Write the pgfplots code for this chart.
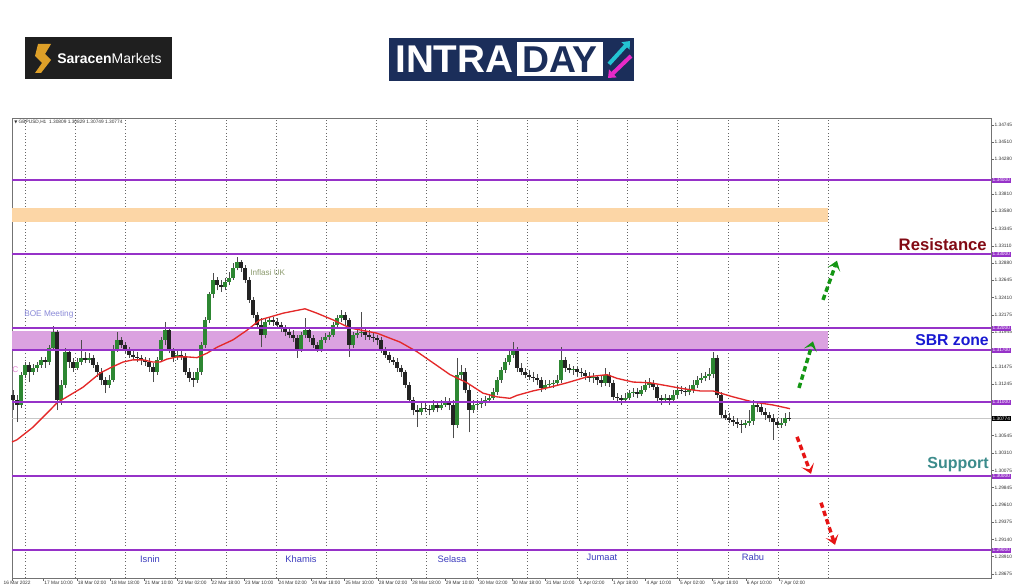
\documentclass[border=0pt]{standalone}
\usepackage{fontspec}
\setmainfont{Liberation Sans}
\newfontfamily\dejavu{DejaVu Sans}
\usepackage{pgfplots}
\pgfplotsset{compat=1.18}
\usepackage{pgfplotstable}
\usetikzlibrary{arrows.meta}

\definecolor{lvl}{RGB}{150,50,200}
\definecolor{sbr}{RGB}{219,162,224}
\definecolor{orng}{RGB}{252,214,166}
\definecolor{bull}{RGB}{45,135,50}
\definecolor{bear}{RGB}{35,35,35}
\definecolor{navy}{RGB}{27,46,90}
\definecolor{gold}{RGB}{222,160,40}
\definecolor{resred}{RGB}{130,10,20}
\definecolor{sbrblue}{RGB}{25,25,210}
\definecolor{supteal}{RGB}{60,140,140}
\definecolor{daylab}{RGB}{60,60,190}
\definecolor{arrgreen}{RGB}{20,150,20}
\definecolor{arrred}{RGB}{230,20,20}
\definecolor{macol}{RGB}{228,40,40}
\definecolor{icyan}{RGB}{36,196,210}
\definecolor{imag}{RGB}{232,42,200}

\newcommand{\mtfont}{\fontsize{3.6}{4.2}\selectfont}

\pgfplotstableread{
x o h l c
13 1.3109 1.3116 1.3089 1.3103
17 1.3103 1.3109 1.3073 1.3096
21 1.3096 1.3141 1.3092 1.3137
25 1.3137 1.3154 1.3132 1.3150
29 1.3150 1.3154 1.3127 1.3141
33 1.3141 1.3151 1.3137 1.3146
37 1.3146 1.3154 1.3141 1.3150
41 1.3150 1.3161 1.3146 1.3157
45 1.3157 1.3161 1.3146 1.3154
49 1.3154 1.3177 1.3150 1.3173
53 1.3173 1.3203 1.3170 1.3195
57 1.3195 1.3197 1.3089 1.3103
61 1.3103 1.3130 1.3096 1.3123
65 1.3123 1.3173 1.3119 1.3168
69 1.3168 1.3170 1.3146 1.3154
73 1.3154 1.3160 1.3141 1.3146
77 1.3146 1.3160 1.3143 1.3154
81 1.3154 1.3184 1.3150 1.3160
85 1.3160 1.3168 1.3153 1.3157
89 1.3157 1.3166 1.3153 1.3160
93 1.3160 1.3164 1.3146 1.3150
97 1.3150 1.3154 1.3134 1.3141
101 1.3141 1.3146 1.3123 1.3130
105 1.3130 1.3134 1.3112 1.3123
109 1.3123 1.3137 1.3119 1.3130
113 1.3130 1.3177 1.3127 1.3170
117 1.3170 1.3195 1.3168 1.3184
121 1.3184 1.3188 1.3173 1.3177
125 1.3177 1.3181 1.3166 1.3170
129 1.3170 1.3174 1.3160 1.3164
133 1.3164 1.3170 1.3157 1.3161
137 1.3161 1.3168 1.3154 1.3160
141 1.3160 1.3164 1.3150 1.3157
145 1.3157 1.3161 1.3149 1.3154
149 1.3154 1.3160 1.3141 1.3147
153 1.3147 1.3153 1.3127 1.3141
157 1.3141 1.3161 1.3137 1.3157
161 1.3157 1.3188 1.3154 1.3184
165 1.3184 1.3208 1.3177 1.3197
169 1.3197 1.3201 1.3166 1.3170
173 1.3170 1.3173 1.3154 1.3161
177 1.3161 1.3170 1.3157 1.3164
181 1.3164 1.3170 1.3157 1.3162
185 1.3162 1.3166 1.3137 1.3141
189 1.3141 1.3146 1.3127 1.3132
193 1.3132 1.3141 1.3120 1.3130
197 1.3130 1.3146 1.3126 1.3141
201 1.3141 1.3181 1.3137 1.3177
205 1.3177 1.3215 1.3173 1.3211
209 1.3211 1.3249 1.3207 1.3246
213 1.3246 1.3274 1.3241 1.3265
217 1.3265 1.3269 1.3251 1.3258
221 1.3258 1.3265 1.3249 1.3255
225 1.3255 1.3268 1.3251 1.3262
229 1.3262 1.3276 1.3258 1.3268
233 1.3268 1.3288 1.3265 1.3281
237 1.3281 1.3296 1.3278 1.3289
241 1.3289 1.3292 1.3276 1.3281
245 1.3281 1.3285 1.3261 1.3265
249 1.3265 1.3269 1.3234 1.3238
253 1.3238 1.3242 1.3214 1.3218
257 1.3218 1.3222 1.3200 1.3204
261 1.3204 1.3214 1.3174 1.3190
265 1.3190 1.3214 1.3186 1.3208
269 1.3208 1.3215 1.3204 1.3211
273 1.3211 1.3215 1.3203 1.3208
277 1.3208 1.3214 1.3200 1.3204
281 1.3204 1.3208 1.3195 1.3200
285 1.3200 1.3204 1.3189 1.3195
289 1.3195 1.3200 1.3186 1.3190
293 1.3190 1.3197 1.3181 1.3186
297 1.3186 1.3190 1.3160 1.3170
301 1.3170 1.3195 1.3168 1.3190
305 1.3190 1.3214 1.3186 1.3197
309 1.3197 1.3201 1.3181 1.3186
313 1.3186 1.3190 1.3173 1.3177
317 1.3177 1.3181 1.3168 1.3170
321 1.3170 1.3188 1.3168 1.3184
325 1.3184 1.3193 1.3180 1.3188
329 1.3188 1.3195 1.3184 1.3190
333 1.3190 1.3208 1.3188 1.3204
337 1.3204 1.3218 1.3200 1.3214
341 1.3214 1.3224 1.3208 1.3218
345 1.3218 1.3222 1.3204 1.3211
349 1.3211 1.3214 1.3161 1.3177
353 1.3177 1.3195 1.3173 1.3190
357 1.3190 1.3200 1.3186 1.3193
361 1.3193 1.3222 1.3188 1.3195
365 1.3195 1.3200 1.3184 1.3190
369 1.3190 1.3197 1.3184 1.3188
373 1.3188 1.3193 1.3181 1.3186
377 1.3186 1.3190 1.3177 1.3184
381 1.3184 1.3188 1.3166 1.3170
385 1.3170 1.3174 1.3160 1.3164
389 1.3164 1.3168 1.3153 1.3157
393 1.3157 1.3161 1.3150 1.3154
397 1.3154 1.3160 1.3141 1.3146
401 1.3146 1.3150 1.3134 1.3141
405 1.3141 1.3143 1.3119 1.3123
409 1.3123 1.3127 1.3099 1.3103
413 1.3103 1.3107 1.3082 1.3089
417 1.3089 1.3096 1.3066 1.3086
421 1.3086 1.3099 1.3082 1.3092
425 1.3092 1.3100 1.3086 1.3090
429 1.3090 1.3096 1.3082 1.3089
433 1.3089 1.3103 1.3086 1.3096
437 1.3096 1.3100 1.3086 1.3092
441 1.3092 1.3103 1.3089 1.3096
445 1.3096 1.3107 1.3093 1.3099
449 1.3099 1.3105 1.3089 1.3096
453 1.3096 1.3103 1.3051 1.3069
457 1.3069 1.3160 1.3065 1.3137
461 1.3137 1.3150 1.3130 1.3141
465 1.3141 1.3146 1.3112 1.3116
469 1.3116 1.3123 1.3059 1.3089
473 1.3089 1.3103 1.3085 1.3096
477 1.3096 1.3103 1.3089 1.3097
481 1.3097 1.3105 1.3092 1.3099
485 1.3099 1.3108 1.3095 1.3103
489 1.3103 1.3111 1.3099 1.3105
493 1.3105 1.3119 1.3103 1.3114
497 1.3114 1.3134 1.3109 1.3130
501 1.3130 1.3147 1.3126 1.3143
505 1.3143 1.3160 1.3139 1.3154
509 1.3154 1.3170 1.3150 1.3164
513 1.3164 1.3181 1.3160 1.3170
517 1.3170 1.3174 1.3141 1.3146
521 1.3146 1.3153 1.3137 1.3141
525 1.3141 1.3146 1.3132 1.3137
529 1.3137 1.3143 1.3130 1.3134
533 1.3134 1.3141 1.3127 1.3132
537 1.3132 1.3138 1.3123 1.3130
541 1.3130 1.3134 1.3114 1.3119
545 1.3119 1.3130 1.3116 1.3123
549 1.3123 1.3130 1.3119 1.3124
553 1.3124 1.3130 1.3119 1.3126
557 1.3126 1.3137 1.3122 1.3130
561 1.3130 1.3174 1.3126 1.3157
565 1.3157 1.3161 1.3141 1.3146
569 1.3146 1.3151 1.3139 1.3143
573 1.3143 1.3149 1.3137 1.3145
577 1.3145 1.3147 1.3135 1.3141
581 1.3141 1.3146 1.3134 1.3139
585 1.3139 1.3143 1.3130 1.3135
589 1.3135 1.3141 1.3127 1.3132
593 1.3132 1.3139 1.3126 1.3134
597 1.3134 1.3137 1.3123 1.3130
601 1.3130 1.3135 1.3120 1.3126
605 1.3126 1.3146 1.3122 1.3137
609 1.3137 1.3141 1.3120 1.3126
613 1.3126 1.3130 1.3103 1.3107
617 1.3107 1.3112 1.3099 1.3105
621 1.3105 1.3109 1.3096 1.3103
625 1.3103 1.3112 1.3099 1.3105
629 1.3105 1.3116 1.3103 1.3112
633 1.3112 1.3119 1.3107 1.3114
637 1.3114 1.3119 1.3105 1.3111
641 1.3111 1.3122 1.3108 1.3116
645 1.3116 1.3130 1.3114 1.3123
649 1.3123 1.3132 1.3119 1.3126
653 1.3126 1.3130 1.3116 1.3120
657 1.3120 1.3123 1.3099 1.3105
661 1.3105 1.3109 1.3096 1.3103
665 1.3103 1.3111 1.3099 1.3105
669 1.3105 1.3109 1.3096 1.3103
673 1.3103 1.3116 1.3100 1.3109
677 1.3109 1.3122 1.3105 1.3116
681 1.3116 1.3122 1.3111 1.3115
685 1.3115 1.3120 1.3108 1.3114
689 1.3114 1.3123 1.3109 1.3116
693 1.3116 1.3130 1.3112 1.3123
697 1.3123 1.3135 1.3119 1.3130
701 1.3130 1.3139 1.3126 1.3132
705 1.3132 1.3141 1.3128 1.3135
709 1.3135 1.3146 1.3130 1.3138
713 1.3138 1.3168 1.3132 1.3160
717 1.3160 1.3164 1.3105 1.3109
721 1.3109 1.3114 1.3078 1.3082
725 1.3082 1.3089 1.3076 1.3078
729 1.3078 1.3085 1.3072 1.3076
733 1.3076 1.3081 1.3068 1.3073
737 1.3073 1.3078 1.3065 1.3070
741 1.3070 1.3076 1.3058 1.3069
745 1.3069 1.3076 1.3065 1.3072
749 1.3072 1.3089 1.3068 1.3074
753 1.3074 1.3103 1.3069 1.3096
757 1.3096 1.3100 1.3086 1.3093
761 1.3093 1.3099 1.3082 1.3086
765 1.3086 1.3092 1.3076 1.3082
769 1.3082 1.3086 1.3073 1.3078
773 1.3078 1.3084 1.3049 1.3073
777 1.3073 1.3078 1.3065 1.3069
781 1.3069 1.3078 1.3065 1.3072
785 1.3072 1.3085 1.3068 1.3078
789 1.3078 1.3086 1.3074 1.3077
}\candles

\pgfplotstableread{
x y
12 1.3046
17 1.3049
33 1.3066
50 1.3089
57 1.3099
67 1.3107
83 1.3120
100 1.3139
110 1.3146
123 1.3154
133 1.3157
143 1.3157
153 1.3154
160 1.3154
167 1.3158
177 1.3161
187 1.3161
197 1.3160
207 1.3166
217 1.3174
233 1.3184
247 1.3197
260 1.3211
283 1.3220
305 1.3226
317 1.3220
333 1.3211
350 1.3200
377 1.3193
400 1.3181
417 1.3168
433 1.3153
450 1.3137
467 1.3126
483 1.3112
497 1.3107
510 1.3105
517 1.3109
533 1.3115
550 1.3120
567 1.3126
587 1.3134
607 1.3137
617 1.3132
633 1.3127
650 1.3126
667 1.3122
683 1.3118
700 1.3115
713 1.3115
733 1.3107
753 1.3100
773 1.3096
790 1.3091
}\ma

\begin{document}
\begin{tikzpicture}
\path[use as bounding box] (0,0) rectangle (768pt,440.25pt);
\fill[white] (0,0) rectangle (768pt,440.25pt);

% header logos (pixel coordinates)
\begin{scope}[x=0.75pt,y=-0.75pt,yshift=440.25pt]
  \fill[black!88] (25,37) rectangle (172,79);
  \fill[gold] (38,44) -- (51,44) -- (45,54) -- (51,60) -- (41,73) -- (35,73) -- (42,63) -- (35,56) -- cycle;
  \node[anchor=west, text=white, font=\fontsize{10.5}{12}\selectfont, inner sep=0] at (57,58) {\textbf{Saracen}Markets};
  \fill[navy] (389,38) rectangle (634,81);
  \node[anchor=west, text=white, font=\fontsize{29}{30}\selectfont\bfseries, inner sep=0] at (395,59.5) {INTRA};
  \fill[white] (517,42) rectangle (603,76);
  \node[text=navy, font=\fontsize{28}{30}\selectfont\bfseries, inner sep=0] at (560,59.5) {DAY};
  \draw[icyan, line width=3pt, -{Triangle[length=5pt,width=8pt]}] (609,64) -- (630,41);
  \draw[imag, line width=3pt, -{Triangle[length=5pt,width=8pt]}] (631,56) -- (608,78);
\end{scope}

\begin{axis}[
  at={(9pt,6.75pt)}, anchor=south west,
  width=734.25pt, height=345pt, scale only axis,
  xmin=12, xmax=991, ymin=1.28622, ymax=1.34838,
  clip=false,
  axis line style={black!55, line width=0.6pt},
  xtick pos=bottom, ytick pos=right, yticklabel pos=right,
  tick align=outside, major tick length=2pt,
  every tick/.style={black!60, line width=0.3pt},
  scaled y ticks=false,
  xtick={12,43.5,77,110.4,143.9,177.3,210.8,244.2,277.7,311.1,344.6,378,411.5,444.9,478.4,511.8,545.3,578.7,612.2,645.6,679.1,712.5,746,779.4},
  xticklabels={\hspace*{-7pt}16 Mar 2022,17 Mar 10:00,18 Mar 02:00,18 Mar 18:00,21 Mar 10:00,22 Mar 02:00,22 Mar 18:00,23 Mar 10:00,24 Mar 02:00,24 Mar 18:00,25 Mar 10:00,28 Mar 02:00,28 Mar 18:00,29 Mar 10:00,30 Mar 02:00,30 Mar 18:00,31 Mar 10:00,1 Apr 02:00,1 Apr 18:00,4 Apr 10:00,5 Apr 02:00,5 Apr 18:00,6 Apr 10:00,7 Apr 02:00},
  xticklabel style={font=\mtfont, anchor=north west, inner sep=0.5pt, text=black!80},
  ytick={1.28675,1.28910,1.29140,1.29375,1.29610,1.29845,1.30075,1.30310,1.30545,1.31245,1.31475,1.31945,1.32175,1.32410,1.32645,1.32880,1.33110,1.33345,1.33580,1.33810,1.34280,1.34510,1.34745},
  yticklabels={1.28675,1.28910,1.29140,1.29375,1.29610,1.29845,1.30075,1.30310,1.30545,1.31245,1.31475,1.31945,1.32175,1.32410,1.32645,1.32880,1.33110,1.33345,1.33580,1.33810,1.34280,1.34510,1.34745},
  yticklabel style={font=\mtfont, anchor=west, inner sep=0.5pt, text=black!80},
  extra x ticks={25,75.2,125.4,175.6,225.8,276,326.2,376.4,426.6,476.8,527,577.2,627.4,677.6,727.8,778,828.2},
  extra x tick labels={},
  extra x tick style={grid=major, major grid style={black!60, dotted, line width=0.45pt}, major tick length=0pt},
  colormap={candle}{color=(bear) color=(bull)},
  point meta min=0, point meta max=1,
]
% background zones
\addplot[draw=none, fill=orng] coordinates {(12,1.33432) (828.2,1.33432) (828.2,1.33622) (12,1.33622)} -- cycle;
\addplot[draw=none, fill=sbr] coordinates {(12,1.31715) (828.2,1.31715) (828.2,1.31960) (12,1.31960)} -- cycle;
% current price line
\addplot[black!22, line width=0.4pt] coordinates {(12,1.30774) (991,1.30774)};

% candles: wicks and bodies
\addplot[-, black!70, line width=0.5pt, quiver={u=0, v=\thisrow{h}-\thisrow{l}}] table[x=x, y=l] {\candles};
\addplot[-, line width=2.5pt, quiver={u=0, v=\thisrow{c}-\thisrow{o}, colored=mapped color}, point meta={\thisrow{c}>\thisrow{o}}] table[x=x, y=o] {\candles};

% moving average
\addplot[macol, line width=1pt] table[x=x, y=y] {\ma};

% levels
\pgfplotsinvokeforeach{1.34,1.33,1.32,1.317,1.31,1.30,1.29}{
  \addplot[lvl, line width=1.1pt] coordinates {(12,#1) (991,#1)};
}

% level labels
\node[fill=lvl, text=white, font=\mtfont, inner sep=0.6pt, anchor=west] at (axis cs:991.5,1.34) {1.34000};
\node[fill=lvl, text=white, font=\mtfont, inner sep=0.6pt, anchor=west] at (axis cs:991.5,1.33) {1.33000};
\node[fill=lvl, text=white, font=\mtfont, inner sep=0.6pt, anchor=west] at (axis cs:991.5,1.32) {1.32000};
\node[fill=lvl, text=white, font=\mtfont, inner sep=0.6pt, anchor=west] at (axis cs:991.5,1.317) {1.31700};
\node[fill=lvl, text=white, font=\mtfont, inner sep=0.6pt, anchor=west] at (axis cs:991.5,1.31) {1.31000};
\node[fill=black, text=white, font=\mtfont, inner sep=0.6pt, anchor=west] at (axis cs:991.5,1.30774) {1.30774};
\node[fill=lvl, text=white, font=\mtfont, inner sep=0.6pt, anchor=west] at (axis cs:991.5,1.30) {1.30000};
\node[fill=lvl, text=white, font=\mtfont, inner sep=0.6pt, anchor=west] at (axis cs:991.5,1.29) {1.29000};

% chart header text
\node[anchor=west, font=\mtfont, inner sep=0, text=black!80] at (axis cs:14,1.34777) {{\dejavu\fontsize{3}{4}\selectfont ▼} GBPUSD,H1\ \ 1.30809 1.30829 1.30749 1.30774};

% annotations
\node[anchor=west, font=\fontsize{6.2}{7}\selectfont, text=daylab!60, inner sep=0] at (axis cs:24,1.32189) {BOE Meeting};
\node[anchor=west, font=\fontsize{6.1}{7}\selectfont, text={rgb,255:red,140;green,155;blue,110}, inner sep=0] at (axis cs:250,1.32743) {Inflasi UK};
\node[anchor=west, font=\fontsize{6.2}{7}\selectfont, text={rgb,255:red,225;green,130;blue,210}, inner sep=0] at (axis cs:12,1.31432) {C};

\node[font=\fontsize{7}{8}\selectfont, text=daylab] at (axis cs:150,1.28878) {Isnin};
\node[font=\fontsize{7}{8}\selectfont, text=daylab] at (axis cs:301,1.28878) {Khamis};
\node[font=\fontsize{7}{8}\selectfont, text=daylab] at (axis cs:452,1.28878) {Selasa};
\node[font=\fontsize{7}{8}\selectfont, text=daylab] at (axis cs:602,1.28900) {Jumaat};
\node[font=\fontsize{7}{8}\selectfont, text=daylab] at (axis cs:753,1.28900) {Rabu};

\node[anchor=east, font=\fontsize{12.5}{14}\selectfont\bfseries, text=resred, inner sep=0] at (axis cs:987,1.33122) {Resistance};
\node[anchor=east, font=\fontsize{11.8}{14}\selectfont\bfseries, text=sbrblue, inner sep=0] at (axis cs:989,1.31838) {SBR zone};
\node[anchor=east, font=\fontsize{12}{14}\selectfont\bfseries, text=supteal, inner sep=0] at (axis cs:989,1.30149) {Support};

% scenario arrows
\draw[arrgreen, line width=2.6pt, dash pattern=on 4pt off 2.5pt, -{Stealth[length=7pt,width=10pt,inset=3.5pt]}] (axis cs:799,1.3119) -- (axis cs:813,1.3182);
\draw[arrgreen, line width=2.6pt, dash pattern=on 4pt off 2.5pt, -{Stealth[length=7pt,width=10pt,inset=3.5pt]}] (axis cs:823,1.3238) -- (axis cs:837,1.3291);
\draw[arrred, line width=2.6pt, dash pattern=on 4pt off 2.5pt, -{Stealth[length=7pt,width=10pt,inset=3.5pt]}] (axis cs:797,1.3053) -- (axis cs:811,1.3003);
\draw[arrred, line width=2.6pt, dash pattern=on 4pt off 2.5pt, -{Stealth[length=7pt,width=10pt,inset=3.5pt]}] (axis cs:821,1.2964) -- (axis cs:835,1.2907);
\end{axis}
\end{tikzpicture}
\end{document}
